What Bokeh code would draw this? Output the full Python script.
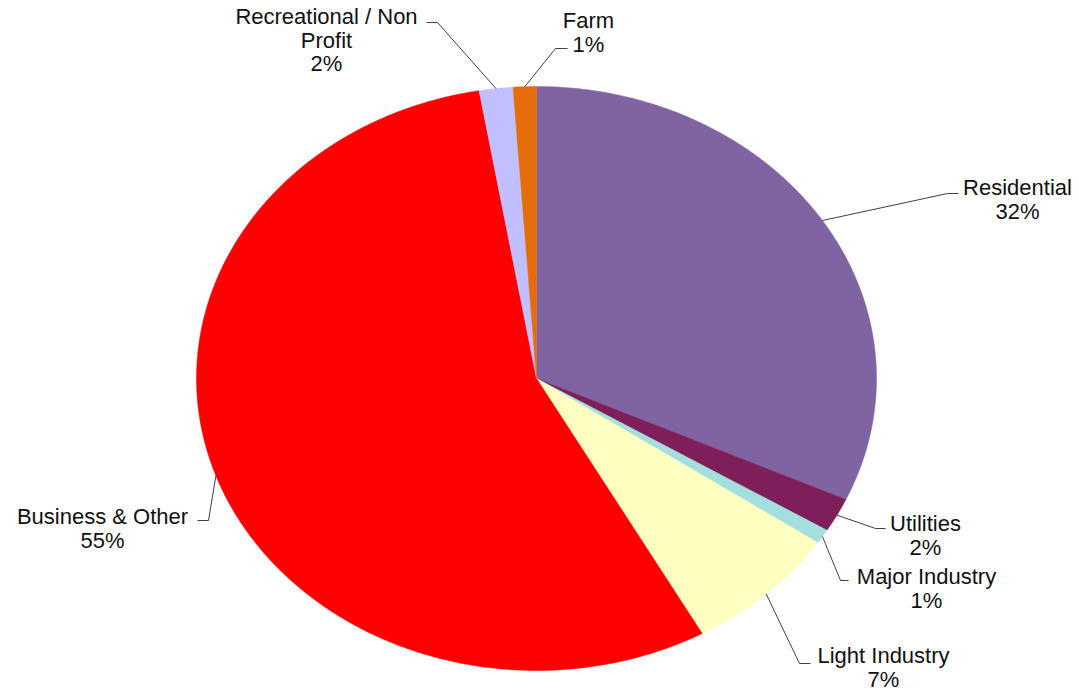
import math
from bokeh.plotting import figure
from bokeh.models import Range1d
from bokeh.embed import file_html
from bokeh.resources import INLINE
from bokeh.core.properties import value

# ---- data (clockwise from 12 o'clock) ----
categories = ["Residential", "Utilities", "Major Industry", "Light Industry",
              "Business & Other", "Recreational / Non\nProfit", "Farm"]
shares = [31.8, 1.9, 0.8, 7.4, 55.4, 1.6, 1.1]
colors = ["#8064A2", "#7F1F5A", "#A5DEDF", "#FFFFC0", "#FF0000", "#C0C0FF", "#E46C0A"]

# ---- layout (pixel positions of label first-line centres and leader elbows) ----
CX, CY, RX, RY = 536, 378, 340, 292
W, H = 1079, 693
LINE = 23.5
label_pos = [(1017, 187), (925, 523), (926, 576), (883, 655), (102, 516), (326, 16), (588, 20)]
leader_elbow = [(947, 193), (875, 528), (840, 580), (799, 663), (208, 520), (437, 22), (555, 48)]
leader_end = [(958, 193), (885, 528), (848, 580), (810, 663), (197, 520), (426, 22), (567, 48)]


def dx(px):
    return (px - CX) / RX


def dy(py):
    return (CY - py) / RY


p = figure(width=W, height=H, output_backend="svg", toolbar_location=None,
           x_range=Range1d(dx(0), dx(W)), y_range=Range1d(dy(H), dy(0)),
           min_border=0, outline_line_color=None, background_fill_color="white")
p.axis.visible = False
p.grid.visible = False

total = sum(shares)
xs, ys = [], []
mid_angles = []
acc = 0.0
for s in shares:
    f0, f1 = acc / total, (acc + s) / total
    acc += s
    a0 = math.pi / 2 - 2 * math.pi * f0
    a1 = math.pi / 2 - 2 * math.pi * f1
    n = max(4, int(abs(a1 - a0) / 0.01))
    px_ = [0.0] + [math.cos(a0 + (a1 - a0) * k / n) for k in range(n + 1)]
    py_ = [0.0] + [math.sin(a0 + (a1 - a0) * k / n) for k in range(n + 1)]
    xs.append(px_)
    ys.append(py_)
    mid_angles.append((a0 + a1) / 2)

p.patches(xs, ys, fill_color=colors, line_color=colors, line_width=0.5)

# leader lines
lx, ly = [], []
for a, e, t in zip(mid_angles, leader_elbow, leader_end):
    lx.append([math.cos(a), dx(e[0]), dx(t[0])])
    ly.append([math.sin(a), dy(e[1]), dy(t[1])])
p.multi_line(lx, ly, line_color="#404040", line_width=1)

# labels, one text per line
tx, ty, tt = [], [], []
for c, s, pos in zip(categories, shares, label_pos):
    lines = c.split("\n") + [f"{round(s / total * 100):d}%"]
    for k, ln in enumerate(lines):
        tx.append(dx(pos[0]))
        ty.append(dy(pos[1] + k * LINE))
        tt.append(ln)
p.text(x=tx, y=ty, text=tt, text_align="center", text_baseline="middle",
       text_font=value("Liberation Sans"), text_font_size="22px", text_color="#111111")

open("out.html", "w").write(file_html(p, INLINE))
